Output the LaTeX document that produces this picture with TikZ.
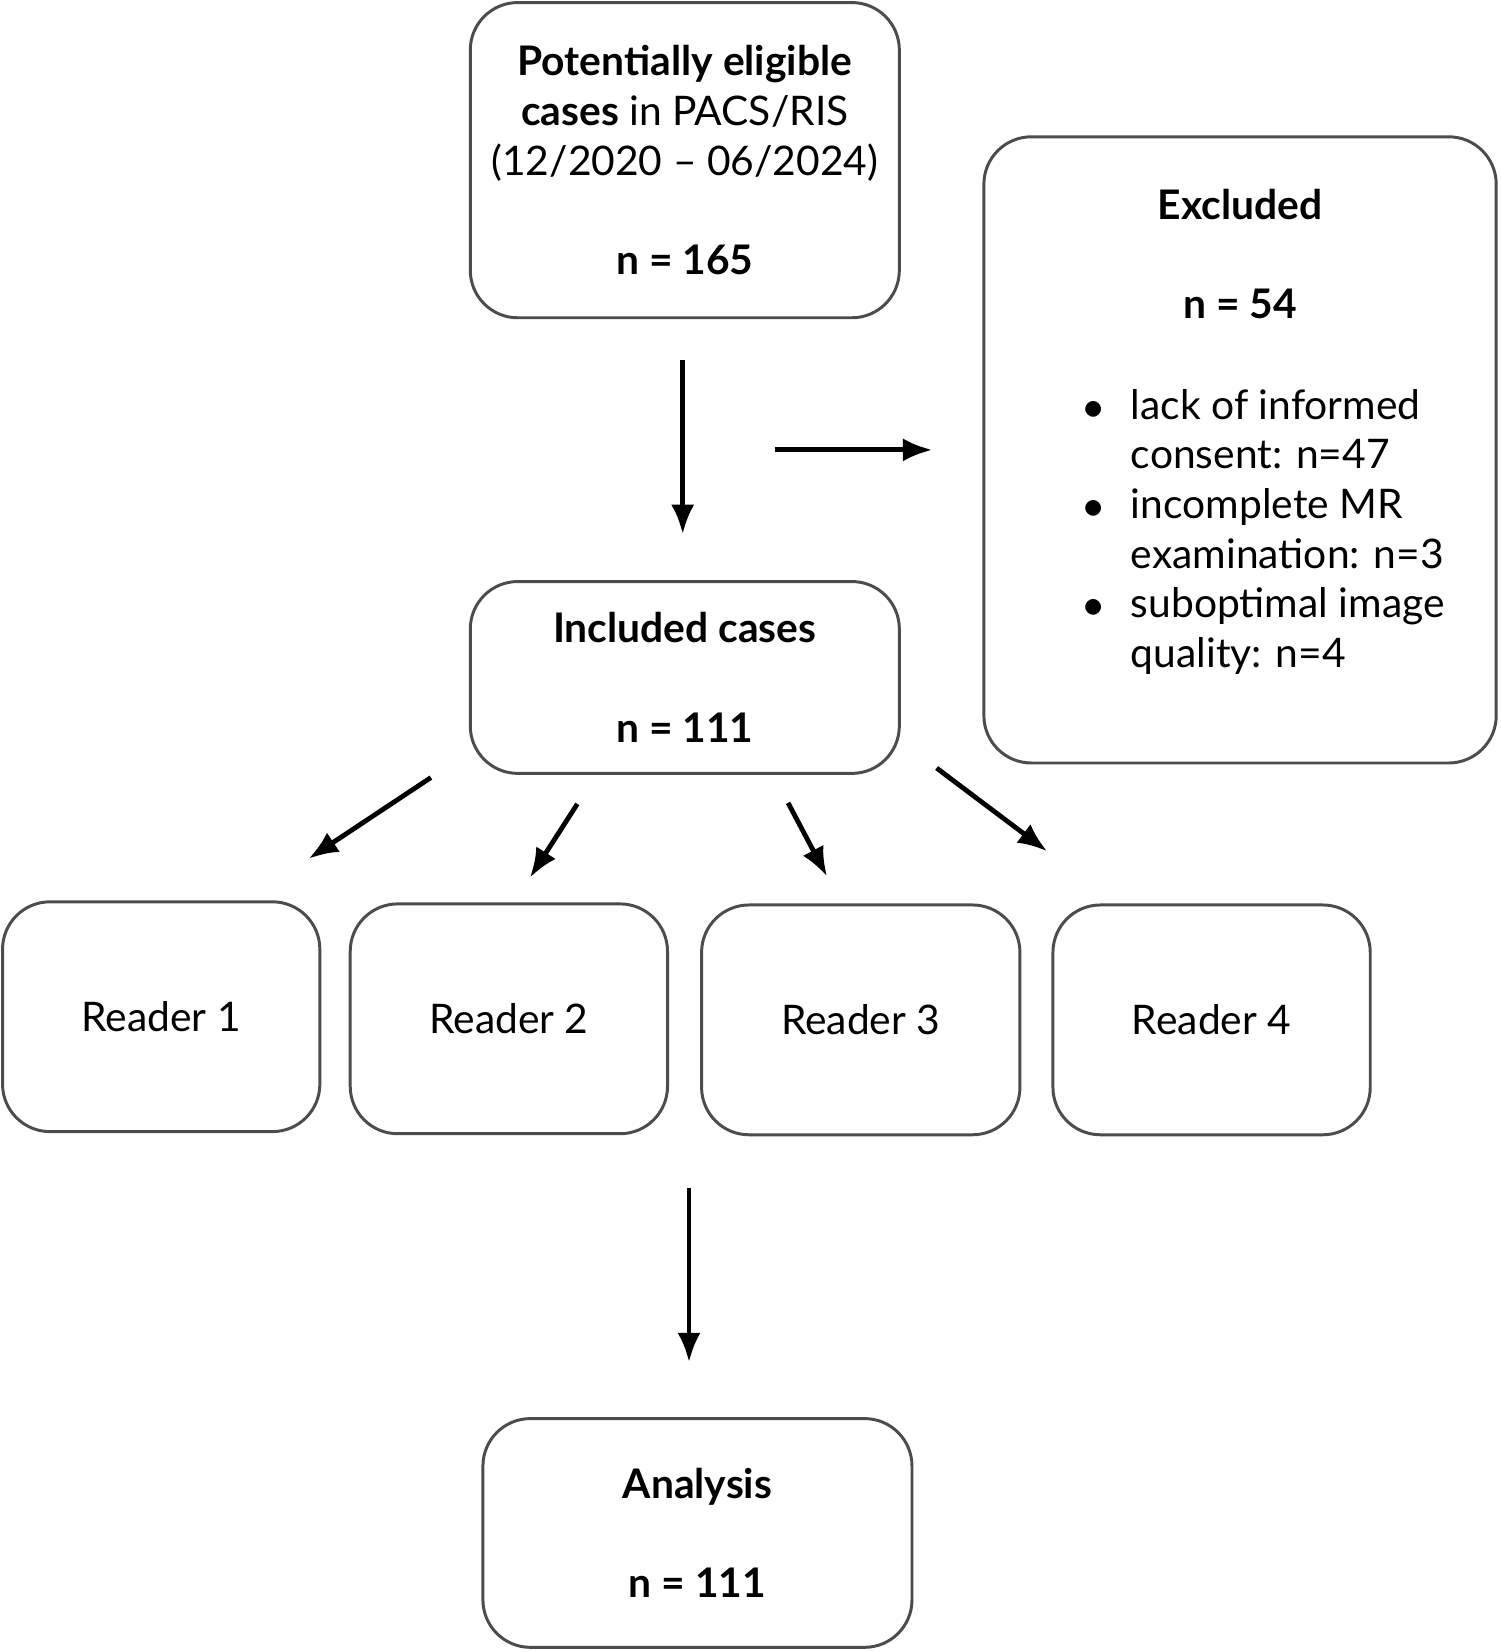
\documentclass[tikz,border=0pt]{standalone}
\usepackage{fontspec}
\setmainfont{Lato}
\usetikzlibrary{arrows.meta,positioning}

\begin{document}
\begin{tikzpicture}[x=0.01cm,y=-0.01cm]
          \tikzset{box/.style={draw=black!70,line width=0.8pt,rounded corners=0.45cm,inner sep=0pt,
                   align=center,font=\fontsize{11}{13.4}\selectfont},
                   flow/.style={-{Latex[length=0.28cm,width=0.22cm]},line width=1.3pt}}
          \useasboundingbox (0,0) rectangle (1424,1568);
          % boxes
          \node [box,minimum width=4.07cm,minimum height=2.99cm] (pacs) at (650,152)
                {\textbf{Potentially eligible}\\\textbf{cases} in PACS/RIS\\(12/2020 -- 06/2024)\\[13.4pt]\textbf{n = 165}};
          \node [box,minimum width=4.86cm,minimum height=5.94cm] (excl) at (1177,427) {};
          \node [box,draw=none,anchor=north] (excltitle) at (1177,178)
                {\textbf{Excluded}\\[13.4pt]\textbf{n = 54}};
          \node [box,draw=none,anchor=north west,align=left] (excllist) at (1027,368)
                {\makebox[0.45cm][l]{$\bullet$}lack of informed\\\makebox[0.45cm]{}consent: n=47\\
                 \makebox[0.45cm][l]{$\bullet$}incomplete MR\\\makebox[0.45cm]{}examination: n=3\\
                 \makebox[0.45cm][l]{$\bullet$}suboptimal image\\\makebox[0.45cm]{}quality: n=4};
          \node [box,minimum width=4.07cm,minimum height=1.82cm] (incl) at (650,643)
                {\textbf{Included cases}\\[13.4pt]\textbf{n = 111}};
          \node [box,minimum width=3.01cm,minimum height=2.18cm] (r1) at (153,965) {Reader 1};
          \node [box,minimum width=3.01cm,minimum height=2.18cm] (r2) at (483,967) {Reader 2};
          \node [box,minimum width=3.02cm,minimum height=2.18cm] (r3) at (817,968) {Reader 3};
          \node [box,minimum width=3.01cm,minimum height=2.18cm] (r4) at (1150,968) {Reader 4};
          \node [box,minimum width=4.07cm,minimum height=2.17cm] (anal) at (662,1455)
                {\textbf{Analysis}\\[13.4pt]\textbf{n = 111}};
          % arrow ends
          \coordinate (a1) at (648,342); \coordinate (b1) at (648,507);
          \coordinate (a2) at (736,427); \coordinate (b2) at (885,427);
          \coordinate (a3) at (409,738); \coordinate (b3) at (293,815);
          \coordinate (a4) at (548,763); \coordinate (b4) at (503,833);
          \coordinate (a5) at (748,762); \coordinate (b5) at (785,832);
          \coordinate (a6) at (889,729); \coordinate (b6) at (994,808);
          \coordinate (a7) at (654,1128); \coordinate (b7) at (654,1293);
          \foreach \i in {1,...,7}
            \draw [flow] (a\i) -- (b\i);
\end{tikzpicture}
\end{document}
